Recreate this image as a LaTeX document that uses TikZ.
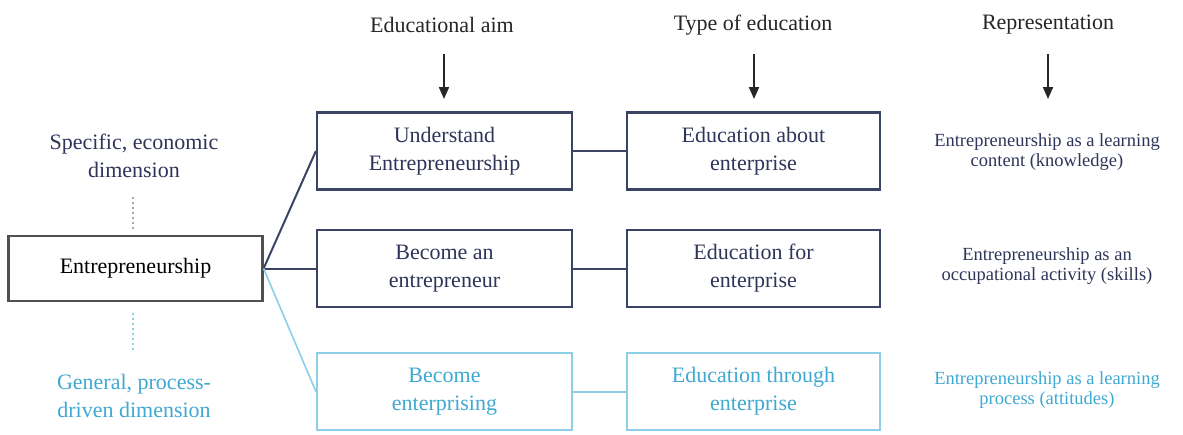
\documentclass[tikz,border=0pt]{standalone}
\usepackage{fontspec}
\setmainfont{Liberation Serif}
\usetikzlibrary{arrows.meta}

\definecolor{navy}{HTML}{2F3559}
\definecolor{navyline}{HTML}{3C4466}
\definecolor{graybox}{HTML}{505050}
\definecolor{skytext}{HTML}{3FA9D2}
\definecolor{skyline}{HTML}{8CCFE6}

\begin{document}
\begin{tikzpicture}[x=1pt,y=-1pt,
  boxtext/.style={font=\fontsize{22}{28}\selectfont, align=center},
  reptext/.style={font=\fontsize{18.5}{20}\selectfont, align=center},
  headtext/.style={font=\fontsize{22}{26}\selectfont, text=black!85},
  aimbox/.style={draw, line width=2.2pt, minimum width=255pt, minimum height=77pt, inner sep=0pt, boxtext},
  darkrow/.style={navyline, text=navy},
  lightrow/.style={skyline, text=skytext},
  link/.style={line width=2pt},
  downarrow/.style={-{Triangle[length=12pt,width=10pt]}, line width=2pt, black!85},
  dimlink/.style={dash pattern=on 2pt off 3pt, line width=1.4pt}
]
% canvas
\useasboundingbox[fill=white] (0,0) rectangle (1183,434);

% column headings and their arrows
\node[headtext] (hAim)  at (442,25)  {Educational aim};
\node[headtext] (hType) at (753,25)  {Type of education};
\node[headtext] (hRep)  at (1048,25) {Representation};
\coordinate (aAim)  at (444,54);
\coordinate (aType) at (754,54);
\coordinate (aRep)  at (1048,54);
\coordinate (bAim)  at (444,99);
\coordinate (bType) at (754,99);
\coordinate (bRep)  at (1048,99);
\draw[downarrow] (aAim)  -- (bAim);
\draw[downarrow] (aType) -- (bType);
\draw[downarrow] (aRep)  -- (bRep);

% central concept and its two dimensions
\node[draw=graybox, line width=2.2pt, minimum width=254pt, minimum height=65pt,
      boxtext, text=black] (ent) at (135.5,268.5) {Entrepreneurship};
\node[boxtext, text=navy] (dimTop) at (134,156) {Specific, economic\\dimension};
\node[boxtext, text=skytext] (dimBot) at (134,396) {General, process-\\driven dimension};
\coordinate (dt0) at (133,197);
\coordinate (dt1) at (133,231);
\coordinate (db0) at (133,313);
\coordinate (db1) at (133,350);
\draw[dimlink, gray!70] (dt0) -- (dt1);
\draw[dimlink, skyline] (db0) -- (db1);

% educational aims
\node[aimbox, darkrow]  (aim1) at (444.5,151) {Understand\\Entrepreneurship};
\node[aimbox, darkrow]  (aim2) at (444.5,268.5) {Become an\\entrepreneur};
\node[aimbox, lightrow] (aim3) at (444.5,391.5) {Become\\enterprising};

% types of education
\node[aimbox, darkrow, minimum width=253pt]  (type1) at (753.5,151) {Education about\\enterprise};
\node[aimbox, darkrow, minimum width=253pt]  (type2) at (753.5,268.5) {Education for\\enterprise};
\node[aimbox, lightrow, minimum width=253pt] (type3) at (753.5,391.5) {Education through\\enterprise};

% representations
\node[reptext, text=navy] (rep1) at (1047,152) {Entrepreneurship as a learning\\content (knowledge)};
\node[reptext, text=navy] (rep2) at (1047,266) {Entrepreneurship as an\\occupational activity (skills)};
\node[reptext, text=skytext] (rep3) at (1047,390) {Entrepreneurship as a learning\\process (attitudes)};

% connectors
\draw[link, navyline] (ent.east) -- (aim1.west);
\draw[link, navyline] (ent.east) -- (aim2.west);
\draw[link, skyline, line width=1.6pt] (ent.east) -- (aim3.west);
\draw[link, navyline] (aim1.east) -- (type1.west);
\draw[link, navyline] (aim2.east) -- (type2.west);
\draw[link, skyline] (aim3.east) -- (type3.west);
\end{tikzpicture}
\end{document}
